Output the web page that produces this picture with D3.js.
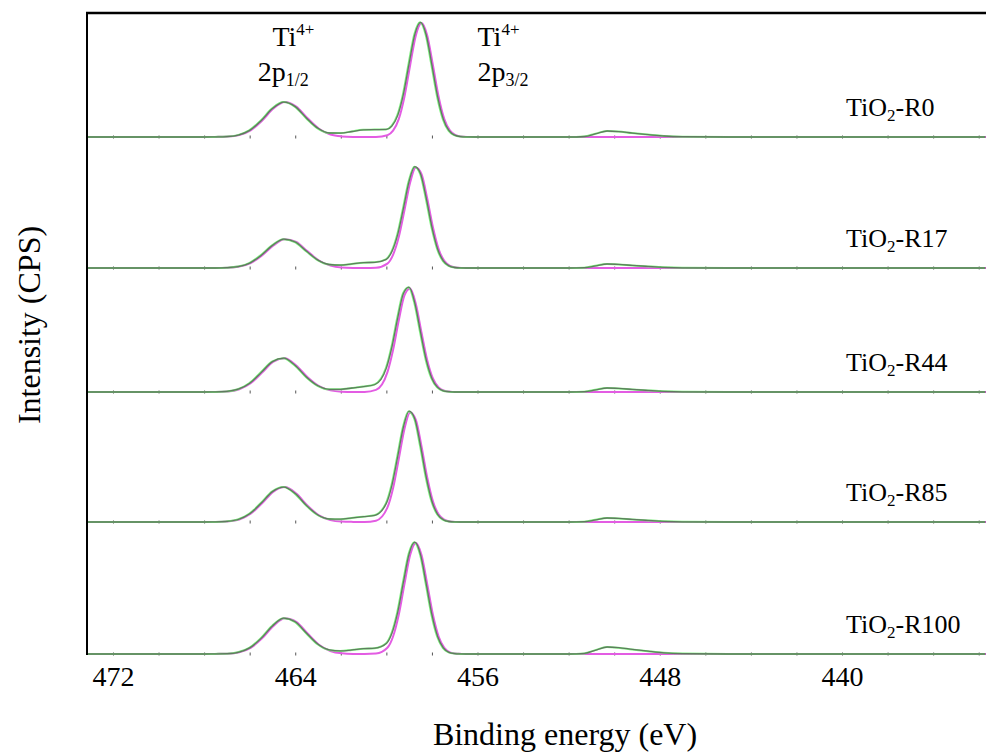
<!DOCTYPE html>
<html>
<head>
<meta charset="utf-8">
<script src="https://cdn.jsdelivr.net/npm/d3@7"></script>
<style>
  body { margin: 0; background: #fff; }
  svg { display: block; font-family: "Liberation Serif", "Times New Roman", serif; }
</style>
</head>
<body>
<svg id="chart"></svg>
<script>
// samples, top to bottom
const samples = ['R0', 'R17', 'R44', 'R85', 'R100'];

// binding energy grid (eV), high -> low
const energy = [473.1, 470, 468.5, 468, 467.5, 467, 466.5, 466, 465.5, 465, 464.5, 464, 463.5, 463, 462.5, 462,
  461.5, 461, 460.5, 460, 459.75, 459.5, 459.25, 459, 458.75, 458.5, 458.25, 458, 457.75, 457.5, 457.25, 457,
  456.75, 456.5, 456, 455, 452, 451.3, 450.8, 450.3, 449.8, 449.2, 448.5, 447.8, 447, 445, 433.7];

// envelope / measured spectrum (a.u.)
const fitR0 = [0, 0, 0, 0, 0.1, 0.4, 1.9, 6.6, 16.3, 28.4, 34.9, 30.4, 18.8, 8.7, 4.0, 3.9, 5.5, 7.2, 7.4, 7.6,
  11.1, 21.6, 42.9, 73.6, 102.7, 114.7, 102.0, 71.9, 40.3, 17.9, 6.3, 1.8, 0.4, 0.1, 0, 0, 0, 0.5, 3.3, 6.0,
  5.4, 3.9, 2.4, 1.0, 0.3, 0, 0];
const fitR17 = [0, 0, 0, 0, 0, 0.3, 1.4, 4.9, 12.6, 22.6, 28.8, 26.0, 16.7, 7.9, 3.5, 2.9, 4.1, 5.3, 5.7, 8.7,
  16.7, 33.6, 59.6, 86.8, 101.3, 94.3, 69.8, 40.9, 19.0, 7.1, 2.1, 0.5, 0.1, 0, 0, 0, 0, 0.3, 2.2, 4.0,
  3.6, 2.6, 1.6, 0.7, 0.2, 0, 0];
const fitR44 = [0, 0, 0, 0, 0.1, 0.6, 2.8, 8.8, 19.4, 30.4, 33.8, 26.5, 14.8, 6.2, 2.7, 2.7, 4.0, 5.4, 7.5, 23.9,
  45.5, 74.2, 98.5, 104.8, 88.9, 59.9, 32.1, 13.6, 4.6, 1.2, 0.3, 0, 0, 0, 0, 0, 0, 0.3, 2.2, 4.0,
  3.6, 2.6, 1.6, 0.7, 0.2, 0, 0];
const fitR85 = [0, 0, 0, 0, 0.1, 0.6, 2.5, 8.2, 18.7, 30.4, 34.9, 28.4, 16.4, 7.0, 3.0, 2.8, 4.1, 5.3, 6.7, 18.6,
  37.2, 65.6, 95.0, 110.8, 103.0, 76.1, 44.8, 20.8, 7.7, 2.3, 0.5, 0.1, 0, 0, 0, 0, 0, 0.3, 2.2, 4.0,
  3.6, 2.6, 1.6, 0.7, 0.2, 0, 0];
const fitR100 = [0, 0, 0, 0, 0.1, 0.3, 1.7, 6.1, 15.6, 28.1, 35.8, 32.2, 20.7, 9.7, 4.1, 3.1, 4.1, 5.3, 5.8, 10.5,
  21.0, 41.9, 71.8, 100.2, 111.8, 99.4, 70.2, 39.3, 17.5, 6.2, 1.7, 0.4, 0.1, 0, 0, 0, 0, 0.6, 3.9, 7.0,
  6.3, 4.6, 2.8, 1.2, 0.4, 0, 0];

// Ti4+ 2p1/2 + 2p3/2 components (a.u.)
const peaksR0 = [0, 0, 0, 0, 0.1, 0.4, 1.9, 6.6, 16.3, 28.4, 34.9, 30.4, 18.7, 8.2, 2.5, 0.6, 0.1, 0, 0.1, 1.8,
  6.3, 17.9, 40.3, 71.8, 101.6, 114, 101.6, 71.8, 40.3, 17.9, 6.3, 1.8, 0.4, 0.1, 0, 0, 0, 0, 0, 0,
  0, 0, 0, 0, 0, 0, 0];
const peaksR17 = [0, 0, 0, 0, 0, 0.3, 1.4, 4.9, 12.6, 22.6, 28.8, 26.0, 16.6, 7.5, 2.4, 0.5, 0.1, 0, 0.3, 4.4,
  13.2, 30.9, 57.7, 85.5, 100.5, 93.8, 69.5, 40.8, 19.0, 7.1, 2.1, 0.5, 0.1, 0, 0, 0, 0, 0, 0, 0,
  0, 0, 0, 0, 0, 0, 0];
const peaksR44 = [0, 0, 0, 0, 0.1, 0.6, 2.8, 8.8, 19.4, 30.4, 33.8, 26.5, 14.7, 5.8, 1.6, 0.3, 0, 0.1, 2.1, 19.6,
  42.0, 71.5, 96.6, 103.5, 88.1, 59.4, 31.8, 13.5, 4.6, 1.2, 0.3, 0, 0, 0, 0, 0, 0, 0, 0, 0,
  0, 0, 0, 0, 0, 0, 0];
const peaksR85 = [0, 0, 0, 0, 0.1, 0.6, 2.5, 8.2, 18.7, 30.4, 34.9, 28.4, 16.3, 6.6, 1.9, 0.4, 0.1, 0, 1.3, 14.3,
  33.7, 62.9, 93.1, 109.5, 102.2, 75.6, 44.5, 20.7, 7.7, 2.3, 0.5, 0.1, 0, 0, 0, 0, 0, 0, 0, 0,
  0, 0, 0, 0, 0, 0, 0];
const peaksR100 = [0, 0, 0, 0, 0.1, 0.3, 1.7, 6.1, 15.6, 28.1, 35.8, 32.2, 20.6, 9.3, 3.0, 0.7, 0.1, 0, 0.4, 6.2,
  17.5, 39.2, 69.9, 98.9, 111, 98.9, 69.9, 39.2, 17.5, 6.2, 1.7, 0.4, 0.1, 0, 0, 0, 0, 0, 0, 0,
  0, 0, 0, 0, 0, 0, 0];

const tickLabels = [472, 464, 456, 448, 440];
const minorTicks = d3.range(434, 473, 2);

const fits = [fitR0, fitR17, fitR44, fitR85, fitR100];
const peaks = [peaksR0, peaksR17, peaksR44, peaksR85, peaksR100];

const spectra = samples.map((s, i) => ({
  name: s,
  fit: energy.map((e, j) => ({e: e, v: fits[i][j]})),
  peaks: energy.map((e, j) => ({e: e, v: peaks[i][j]}))
}));

const width = 986, height = 755;
const plot = {left: 87, right: 986, top: 13, bottom: 654};
// baseline of each stacked panel
const panelBase = [137, 268, 392, 522, plot.bottom];

const svg = d3.select('#chart')
  .attr('width', width)
  .attr('height', height);

svg.append('rect').attr('width', width).attr('height', height).attr('fill', '#fff');

const x = d3.scaleLinear().domain([473.14, 433.68]).range([plot.left, plot.right]);
const yBase = d3.scaleOrdinal().domain(samples).range(panelBase);
const yI = d3.scaleLinear().domain([0, 120]).range([0, -120]);

const line = d3.line()
  .x(d => x(d.e))
  .y(d => yI(d.v))
  .curve(d3.curveMonotoneX);

const panels = svg.selectAll('.panel')
  .data(spectra)
  .enter()
  .append('g')
  .attr('class', 'panel')
  .attr('transform', d => `translate(0, ${yBase(d.name)})`);

// small tick dots along every baseline
panels.append('g')
  .attr('transform', 'translate(0, -1.5)')
  .each(function() {
    d3.select(this).call(d3.axisBottom(x).tickValues(minorTicks).tickSize(3).tickFormat(''));
  })
  .call(g => g.select('.domain').remove())
  .call(g => g.selectAll('line').attr('stroke', '#555'));

panels.append('path')
  .attr('d', d => line(d.peaks))
  .attr('transform', 'translate(1, 0)')
  .attr('fill', 'none')
  .attr('stroke', '#e35ce3')
  .attr('stroke-width', 2);

panels.append('path')
  .attr('d', d => line(d.fit))
  .attr('transform', 'translate(-0.5, 0)')
  .attr('fill', 'none')
  .attr('stroke', '#6ff06f')
  .attr('stroke-width', 2)
  .attr('stroke-opacity', 0.9);

panels.append('path')
  .attr('d', d => line(d.fit))
  .attr('fill', 'none')
  .attr('stroke', '#555')
  .attr('stroke-width', 1.3)
  .attr('stroke-opacity', 0.75);

// sample names
const names = panels.append('text')
  .attr('x', 846)
  .attr('y', -21)
  .attr('font-size', 26)
  .attr('fill', '#000');
names.append('tspan').text('TiO');
names.append('tspan').attr('dy', 5).attr('font-size', 17).text('2');
names.append('tspan').attr('dy', -5).text(d => '-' + d.name);

// frame
svg.append('line')
  .attr('x1', plot.left).attr('x2', plot.left)
  .attr('y1', plot.top).attr('y2', plot.bottom + 1)
  .attr('stroke', '#000').attr('stroke-width', 2);
svg.append('line')
  .attr('x1', plot.left - 1).attr('x2', plot.right)
  .attr('y1', plot.top).attr('y2', plot.top)
  .attr('stroke', '#000').attr('stroke-width', 2.5);

// energy axis labels
const xAxis = svg.append('g')
  .attr('transform', `translate(0, ${plot.bottom})`)
  .call(d3.axisBottom(x).tickValues(tickLabels).tickSize(0).tickPadding(12).tickFormat(d3.format('d')));
xAxis.select('.domain').remove();
xAxis.selectAll('text')
  .attr('font-family', '"Liberation Serif", serif')
  .attr('font-size', 28)
  .attr('fill', '#000');

svg.append('text')
  .attr('x', 565)
  .attr('y', 745)
  .attr('text-anchor', 'middle')
  .attr('font-size', 32)
  .text('Binding energy (eV)');

svg.append('text')
  .attr('transform', 'translate(40, 325) rotate(-90)')
  .attr('text-anchor', 'middle')
  .attr('font-size', 32)
  .text('Intensity (CPS)');

// peak annotations
function peakLabel(xIon, xLevel, level) {
  const t1 = svg.append('text').attr('x', xIon).attr('y', 46).attr('font-size', 28);
  t1.append('tspan').text('Ti');
  t1.append('tspan').attr('dy', -11).attr('font-size', 17).text('4+');
  const t2 = svg.append('text').attr('x', xLevel).attr('y', 81).attr('font-size', 28);
  t2.append('tspan').text('2p');
  t2.append('tspan').attr('dy', 5).attr('font-size', 18).text(level);
}
peakLabel(x(465.0), x(465.65), '1/2');
peakLabel(x(456.0), x(456.0), '3/2');
</script>
</body>
</html>
